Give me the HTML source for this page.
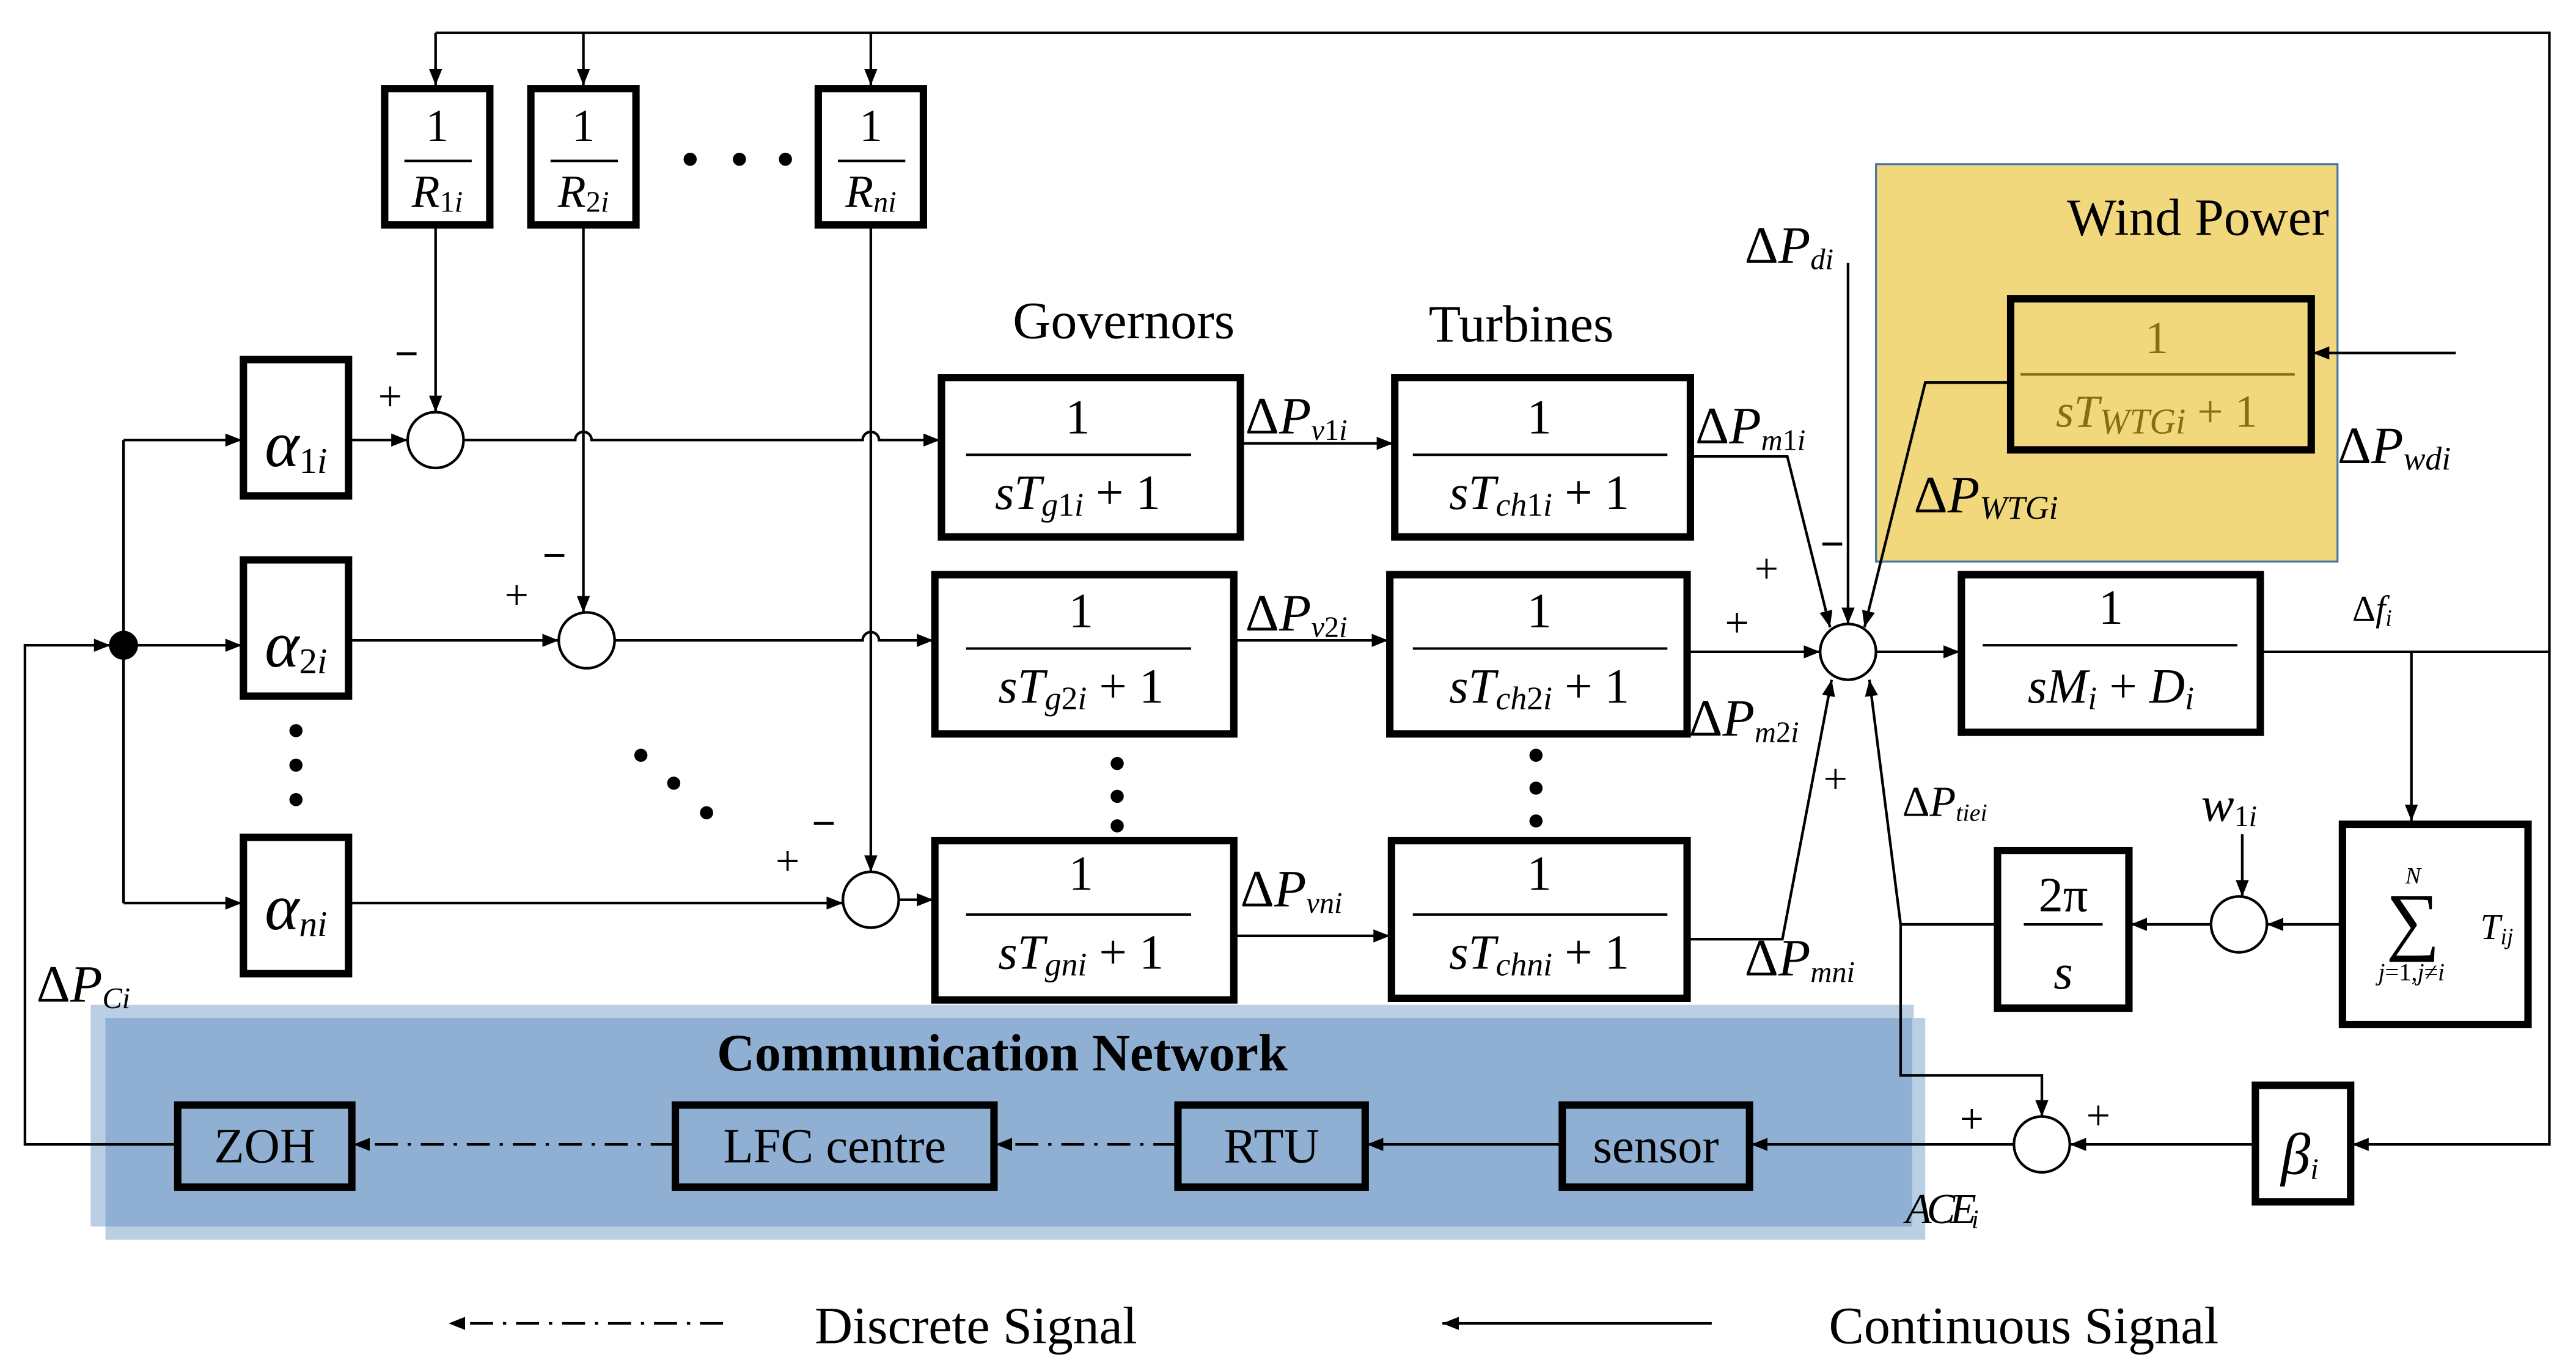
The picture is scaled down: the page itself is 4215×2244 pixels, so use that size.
<!DOCTYPE html>
<html><head><meta charset="utf-8"><style>
html,body{margin:0;padding:0;background:#fff}
svg{display:block}
text{font-family:"Liberation Serif",serif;fill:#000}
.it{font-style:italic}
</style></head><body>
<svg width="4215" height="2244" viewBox="0 0 1568 835" xmlns="http://www.w3.org/2000/svg">
<defs>
<marker id="a" viewBox="0 0 10 10" refX="10" refY="5" markerWidth="10" markerHeight="10" markerUnits="userSpaceOnUse" orient="auto"><path d="M0,1 L10,5 L0,9 z" fill="#000"/></marker>
</defs>
<g fill="none" stroke="#000" stroke-width="1.6">
<rect x="1142" y="100" width="281" height="242" fill="#f2d87c" stroke="#4a76a8" stroke-width="1.2"/>
<rect x="55" y="612" width="1110" height="135" fill="#bacfe3" stroke="none"/>
<rect x="64" y="620" width="1108" height="135" fill="#bacfe3" stroke="none"/>
<rect x="64" y="620" width="1100" height="127" fill="#8fb0d3" stroke="none"/>

<path d="M265,20 H1552 V697 H1432" marker-end="url(#a)"/>
<path d="M265,20 V52" marker-end="url(#a)"/>
<path d="M355,20 V52" marker-end="url(#a)"/>
<path d="M530,20 V52" marker-end="url(#a)"/>
<path d="M265,138 V251" marker-end="url(#a)"/>
<path d="M355,138 V373" marker-end="url(#a)"/>
<path d="M530,138 V531" marker-end="url(#a)"/>

<path d="M107,697 H15 V393 H67" marker-end="url(#a)"/>
<path d="M75,268 V550"/>
<path d="M75,268 H147" marker-end="url(#a)"/>
<path d="M75,393 H147" marker-end="url(#a)"/>
<path d="M75,550 H147" marker-end="url(#a)"/>
<path d="M213,268 H248" marker-end="url(#a)"/>
<path d="M213,390 H340" marker-end="url(#a)"/>
<path d="M213,550 H513" marker-end="url(#a)"/>
<path d="M282,268 H350 a5,5 0 0 1 10,0 H525 a5,5 0 0 1 10,0 H572" marker-end="url(#a)"/>
<path d="M374,390 H525 a5,5 0 0 1 10,0 H568" marker-end="url(#a)"/>
<path d="M547,548 H568" marker-end="url(#a)"/>
<path d="M755,270 H848" marker-end="url(#a)"/>
<path d="M752,390 H845" marker-end="url(#a)"/>
<path d="M752,570 H846" marker-end="url(#a)"/>
<path d="M1030,278 H1088 L1114,382" marker-end="url(#a)"/>
<path d="M1028,397 H1108" marker-end="url(#a)"/>
<path d="M1028,572 H1085 L1115,414" marker-end="url(#a)"/>
<path d="M1125,160 V380" marker-end="url(#a)"/>
<path d="M1222,233 H1172 L1135,382" marker-end="url(#a)"/>
<path d="M1495,215 H1408" marker-end="url(#a)"/>
<path d="M1142,397 H1193" marker-end="url(#a)"/>
<path d="M1377,397 H1552"/>
<path d="M1468,397 V500" marker-end="url(#a)"/>
<path d="M1425,563 H1380" marker-end="url(#a)"/>
<path d="M1365,508 V546" marker-end="url(#a)"/>
<path d="M1346,563 H1297" marker-end="url(#a)"/>
<path d="M1215,563 H1157 V655 H1243 V680" marker-end="url(#a)"/>
<path d="M1157,563 L1138,414" marker-end="url(#a)"/>
<path d="M1372,697 H1260" marker-end="url(#a)"/>
<path d="M1226,697 H1066" marker-end="url(#a)"/>
<path d="M950,697 H832" marker-end="url(#a)"/>
<path d="M716,697 H606" stroke-dasharray="14,6,2,6" marker-end="url(#a)"/>
<path d="M410,697 H215" stroke-dasharray="14,6,2,6" marker-end="url(#a)"/>
<path d="M440,806 H273" stroke-dasharray="14,6,2,6" marker-end="url(#a)"/>
<path d="M1042,806 H878" marker-end="url(#a)"/>

<g fill="#fff">
<circle cx="265" cy="268" r="17"/><circle cx="357" cy="390" r="17"/><circle cx="530" cy="548" r="17"/>
<circle cx="1125" cy="397" r="17"/><circle cx="1363" cy="563" r="17"/><circle cx="1243" cy="697" r="17"/>
</g>
<circle cx="75" cy="393" r="8" fill="#000"/>

<g stroke-width="4.5" fill="#fff">
<rect x="234" y="54" width="64" height="83"/><rect x="323" y="54" width="64" height="83"/><rect x="498" y="54" width="64" height="83"/>
<rect x="148" y="219" width="64" height="83"/><rect x="148" y="341" width="64" height="83"/><rect x="148" y="510" width="64" height="83"/>
<rect x="573" y="230" width="182" height="97"/><rect x="569" y="350" width="182" height="97"/><rect x="569" y="512" width="182" height="97"/>
<rect x="849" y="230" width="180" height="97"/><rect x="846" y="350" width="181" height="97"/><rect x="847" y="512" width="180" height="96"/>
<rect x="1224" y="182" width="183" height="92" fill="#f2d87c"/>
<rect x="1194" y="350" width="182" height="96"/>
<rect x="1426" y="502" width="113" height="122"/>
<rect x="1216" y="518" width="80" height="96"/>
<rect x="1373" y="661" width="58" height="71"/>
<rect x="108" y="673" width="106" height="50" fill="none"/>
<rect x="411" y="673" width="194" height="50" fill="none"/>
<rect x="717" y="673" width="114" height="50" fill="none"/>
<rect x="951" y="673" width="114" height="50" fill="none"/>
</g>
<g stroke-width="1.5">
<path d="M246,98 H287 M335,98 H376 M510,98 H551"/>
<path d="M588,277 H725 M588,395 H725 M588,557 H725"/>
<path d="M860,277 H1015 M860,395 H1015 M860,557 H1015"/>
<path d="M1230,228 H1397" stroke="#8a6d10"/>
<path d="M1207,393 H1362"/>
<path d="M1232,563 H1280"/>
</g>
</g>

<g fill="#000">
<circle cx="420" cy="97" r="4"/><circle cx="450" cy="97" r="4"/><circle cx="478" cy="97" r="4"/>
<circle cx="180" cy="445" r="4"/><circle cx="180" cy="466" r="4"/><circle cx="180" cy="487" r="4"/>
<circle cx="390" cy="460" r="4"/><circle cx="410" cy="477" r="4"/><circle cx="430" cy="495" r="4"/>
<circle cx="680" cy="465" r="4"/><circle cx="680" cy="485" r="4"/><circle cx="680" cy="503" r="4"/>
<circle cx="935" cy="460" r="4"/><circle cx="935" cy="480" r="4"/><circle cx="935" cy="500" r="4"/>
</g>

<g font-size="28" text-anchor="middle">
<text x="266" y="86">1</text><text x="355" y="86">1</text><text x="530" y="86">1</text>
<text x="266" y="126" class="it">R<tspan font-size="18" font-style="normal" dy="3">1</tspan><tspan font-size="18">i</tspan></text>
<text x="355" y="126" class="it">R<tspan font-size="18" font-style="normal" dy="3">2</tspan><tspan font-size="18">i</tspan></text>
<text x="530" y="126" class="it">R<tspan font-size="18" dy="3">ni</tspan></text>
<text x="180" y="284" font-size="40" class="it">α<tspan font-size="22" font-style="normal" dy="4">1</tspan><tspan font-size="22">i</tspan></text>
<text x="180" y="406" font-size="40" class="it">α<tspan font-size="22" font-style="normal" dy="4">2</tspan><tspan font-size="22">i</tspan></text>
<text x="180" y="566" font-size="40" class="it">α<tspan font-size="22" dy="4">ni</tspan></text>
<text x="656" y="264" font-size="30">1</text><text x="656" y="310" font-size="30" class="it">sT<tspan font-size="20" dy="4">g</tspan><tspan font-size="20" font-style="normal">1</tspan><tspan font-size="20">i</tspan><tspan font-style="normal" dy="-4"> + 1</tspan></text>
<text x="658" y="382" font-size="30">1</text><text x="658" y="428" font-size="30" class="it">sT<tspan font-size="20" dy="4">g</tspan><tspan font-size="20" font-style="normal">2</tspan><tspan font-size="20">i</tspan><tspan font-style="normal" dy="-4"> + 1</tspan></text>
<text x="658" y="542" font-size="30">1</text><text x="658" y="590" font-size="30" class="it">sT<tspan font-size="20" dy="4">gni</tspan><tspan font-style="normal" dy="-4"> + 1</tspan></text>
<text x="937" y="264" font-size="30">1</text><text x="937" y="310" font-size="30" class="it">sT<tspan font-size="20" dy="4">ch</tspan><tspan font-size="20" font-style="normal">1</tspan><tspan font-size="20">i</tspan><tspan font-style="normal" dy="-4"> + 1</tspan></text>
<text x="937" y="382" font-size="30">1</text><text x="937" y="428" font-size="30" class="it">sT<tspan font-size="20" dy="4">ch</tspan><tspan font-size="20" font-style="normal">2</tspan><tspan font-size="20">i</tspan><tspan font-style="normal" dy="-4"> + 1</tspan></text>
<text x="937" y="542" font-size="30">1</text><text x="937" y="590" font-size="30" class="it">sT<tspan font-size="20" dy="4">chni</tspan><tspan font-style="normal" dy="-4"> + 1</tspan></text>
<text x="1313" y="215" font-size="28" style="fill:#8a6d10">1</text>
<text x="1313" y="260" font-size="28" class="it" style="fill:#8a6d10">sT<tspan font-size="22" dy="4">WTGi</tspan><tspan font-style="normal" dy="-4"> + 1</tspan></text>
<text x="1285" y="380" font-size="30">1</text><text x="1285" y="428" font-size="30" class="it">sM<tspan font-size="20" dy="4">i</tspan><tspan font-style="normal" dy="-4"> + </tspan>D<tspan font-size="20" dy="4">i</tspan></text>
<text x="1256" y="555" font-size="30">2π</text><text x="1256" y="602" font-size="30" class="it">s</text>
<text x="1469" y="576" font-size="46">∑</text>
<text x="1469" y="538" font-size="14" class="it">N</text>
<text x="1468" y="597" font-size="15" class="it">j<tspan font-style="normal">=1,</tspan>j<tspan font-style="normal">≠</tspan>i</text>
<text x="1520" y="572" font-size="22" class="it">T<tspan font-size="14" dy="3">ij</tspan></text>
<text x="1400" y="715" font-size="36" class="it">β<tspan font-size="18" dy="3">i</tspan></text>
<text x="161" y="708" font-size="30">ZOH</text>
<text x="508" y="708" font-size="30">LFC centre</text>
<text x="774" y="708" font-size="30">RTU</text>
<text x="1008" y="708" font-size="30">sensor</text>
<text x="610" y="652" font-size="32" font-weight="bold">Communication Network</text>
<text x="1338" y="143" font-size="32">Wind Power</text>
<text x="684" y="206" font-size="32">Governors</text>
<text x="926" y="208" font-size="32">Turbines</text>
<text x="594" y="818" font-size="32">Discrete Signal</text>
<text x="1232" y="818" font-size="32">Continuous Signal</text>
</g>

<g font-size="32">
<text x="758" y="264">Δ<tspan class="it">P</tspan><tspan font-size="18" class="it" dy="4">v</tspan><tspan font-size="18">1</tspan><tspan font-size="18" class="it">i</tspan></text>
<text x="758" y="384">Δ<tspan class="it">P</tspan><tspan font-size="18" class="it" dy="4">v</tspan><tspan font-size="18">2</tspan><tspan font-size="18" class="it">i</tspan></text>
<text x="755" y="552">Δ<tspan class="it">P</tspan><tspan font-size="18" class="it" dy="4">vni</tspan></text>
<text x="1032" y="270">Δ<tspan class="it">P</tspan><tspan font-size="18" class="it" dy="4">m</tspan><tspan font-size="18">1</tspan><tspan font-size="18" class="it">i</tspan></text>
<text x="1028" y="448">Δ<tspan class="it">P</tspan><tspan font-size="18" class="it" dy="4">m</tspan><tspan font-size="18">2</tspan><tspan font-size="18" class="it">i</tspan></text>
<text x="1062" y="594">Δ<tspan class="it">P</tspan><tspan font-size="18" class="it" dy="4">mni</tspan></text>
<text x="1062" y="160">Δ<tspan class="it">P</tspan><tspan font-size="18" class="it" dy="4">di</tspan></text>
<text x="1165" y="312">Δ<tspan class="it">P</tspan><tspan font-size="20" class="it" dy="4">WTGi</tspan></text>
<text x="1423" y="282">Δ<tspan class="it">P</tspan><tspan font-size="20" class="it" dy="4">wdi</tspan></text>
<text x="1158" y="497" font-size="26">Δ<tspan class="it">P</tspan><tspan font-size="15" class="it" dy="3">tiei</tspan></text>
<text x="22" y="610">Δ<tspan class="it">P</tspan><tspan font-size="18" class="it" dy="4">Ci</tspan></text>
<text x="1432" y="378" font-size="22">Δ<tspan class="it">f<tspan font-size="14" dy="3">i</tspan></tspan></text>
<text x="1340" y="500" font-size="30" class="it">w<tspan font-size="18" font-style="normal" dy="3">1</tspan><tspan font-size="18">i</tspan></text>
<text x="1160" y="745" font-size="26" class="it" letter-spacing="-3">ACE<tspan font-size="16" dy="3">i</tspan></text>
</g>
<g font-size="26">
<text x="230" y="250">+</text><text x="240" y="224" font-weight="bold">−</text>
<text x="307" y="371">+</text><text x="330" y="347" font-weight="bold">−</text>
<text x="472" y="533">+</text><text x="494" y="510" font-weight="bold">−</text>
<text x="1068" y="355">+</text><text x="1050" y="388">+</text><text x="1110" y="483">+</text>
<text x="1108" y="340" font-weight="bold">−</text>
<text x="1193" y="690">+</text><text x="1270" y="688">+</text>
</g>
</svg>
</body></html>
